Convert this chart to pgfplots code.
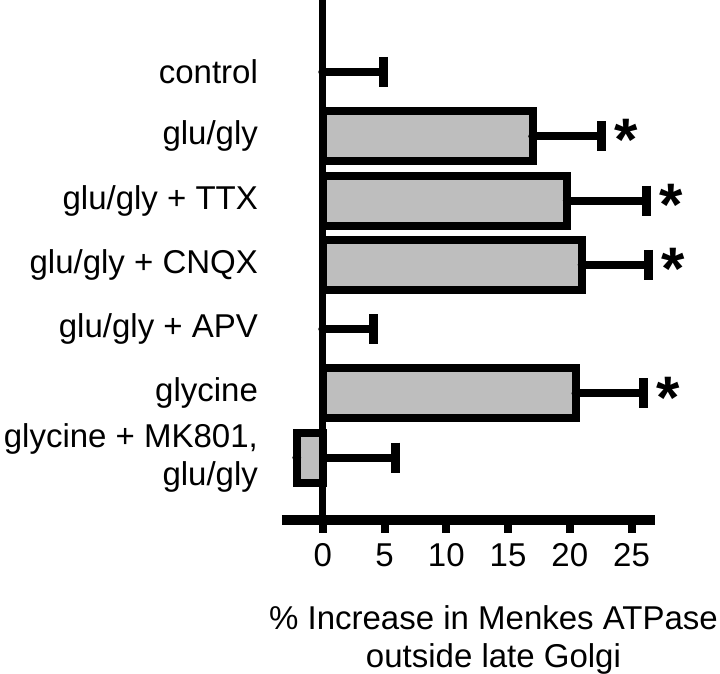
\documentclass[border=0pt]{standalone}
\usepackage{fontspec}
\setmainfont{Liberation Sans}
\usepackage{pgfplots}
\usepackage{pgfplotstable}
\pgfplotsset{compat=1.18}

\definecolor{barfill}{RGB}{190,190,190}

% y: 6 = control (top) ... 0 = glycine + MK801 (bottom)
\pgfplotstableread{
y x err
6 0 4.9
5 17.0 5.6
4 19.8 6.4
3 21.0 5.4
2 0 4.1
1 20.5 5.5
0 -2.1 8.0
}\errdata

\pgfplotstableread{
y x
5 17.0
4 19.8
3 21.0
1 20.5
0 -2.1
}\bardata

\pgfplotstableread{
y x lab
5 24.6 *
4 28.2 *
3 28.4 *
1 28.0 *
}\stardata

\begin{document}
\begin{tikzpicture}
\begin{axis}[
    scale only axis,
    width=186.5pt, height=260pt,
    xmin=-3.3, xmax=26.9,
    ymin=-0.97, ymax=7.12,
    axis x line=bottom, axis y line=left,
    x axis line style={-, line width=5pt},
    y axis line style={draw=none},
    tick align=outside,
    major tick length=6.5pt,
    xtick={0,5,...,25},
    xtick style={line width=4pt, black},
    ytick={0,...,6},
    ytick style={draw=none},
    yticklabels={{glycine + MK801,\\glu/gly},glycine,glu/gly + APV,glu/gly + CNQX,glu/gly + TTX,glu/gly,control},
    yticklabel style={align=right, font=\fontsize{16.5}{19}\selectfont, xshift=-2pt},
    xticklabel style={font=\fontsize{16.5}{19}\selectfont, text height=12pt, text depth=0pt, yshift=-1pt},
    /pgf/number format/assume math mode=true,
    extra x ticks={0},
    extra x tick labels={},
    extra x tick style={grid=major, major grid style={line width=3.5pt, black}},
    xlabel={\% Increase in Menkes ATPase\\outside late Golgi},
    xlabel style={align=center, font=\fontsize{16.5}{19}\selectfont, xshift=12.5pt},
    clip=false,
]
% error bars first, so the bars cover the part inside them
\addplot[only marks, mark=none, black,
    error bars/.cd, x dir=plus, x explicit,
    error mark=|,
    error bar style={line width=4pt, black},
    error mark options={line width=4.5pt, black, mark size=7.5pt}]
    table[x=x, y=y, x error=err] {\errdata};

\addplot[xbar, bar width=25pt, fill=barfill, draw=black, line width=4pt]
    table[x=x, y=y] {\bardata};

\addplot[only marks, mark=none, nodes near coords, point meta=explicit symbolic,
    nodes near coords style={anchor=center, font=\fontsize{30}{30}\selectfont\bfseries, yshift=-2pt}]
    table[x=x, y=y, meta=lab] {\stardata};
\end{axis}
\pgfresetboundingbox
\path (-141pt,-77pt) rectangle (219pt,260pt);
\end{tikzpicture}
\end{document}
